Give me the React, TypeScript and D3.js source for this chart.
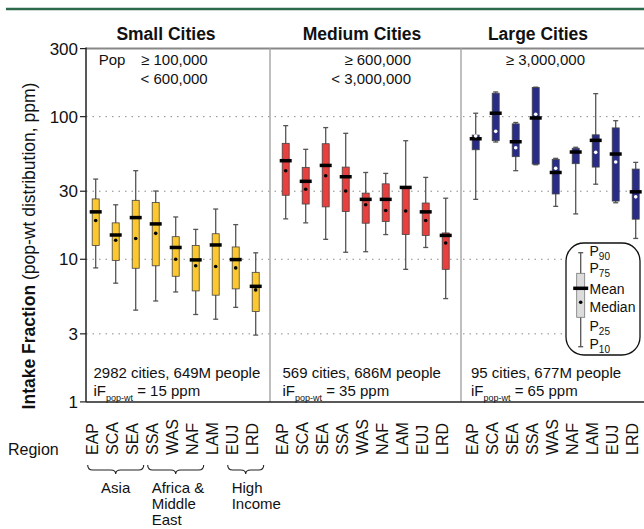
import React from "react";
import * as d3 from "d3";

const regions = ["EAP", "SCA", "SEA", "SSA", "WAS", "NAF", "LAM", "EUJ", "LRD"];
const panelTitles = ["Small Cities", "Medium Cities", "Large Cities"];
const yTicks = [1, 3, 10, 30, 100, 300];
const gridTicks = [3, 10, 30, 100];

const smallP10 = [8.7, 6.8, 4.4, 5.1, 5.9, 4.1, 3.8, 4.6, 2.94];
const smallP25 = [12.5, 9.8, 8.65, 9.0, 7.6, 6.0, 5.6, 6.2, 4.3];
const smallMedian = [18.7, 13.6, 14.0, 15.2, 10.0, 9.0, 8.9, 8.7, 6.1];
const smallMean = [21.5, 14.8, 19.6, 17.7, 12.1, 9.9, 12.6, 9.95, 6.46];
const smallP75 = [26.5, 18.0, 25.9, 25.0, 14.4, 12.5, 15.1, 12.2, 8.1];
const smallP90 = [36.5, 24.1, 41.8, 30.1, 19.8, 16.2, 22.5, 17.5, 11.1];

const mediumP10 = [19.2, 18.0, 13.8, 11.2, 11.3, 14.9, 8.5, 12.1, 5.3];
const mediumP25 = [28.1, 24.4, 23.3, 21.6, 17.9, 18.4, 14.9, 14.7, 8.5];
const mediumMedian = [41.8, 31.0, 38.5, 30.1, 24.1, 22.0, 21.8, 18.7, 13.0];
const mediumMean = [49.1, 35.2, 45.5, 37.9, 26.3, 26.3, 31.9, 21.5, 14.7];
const mediumP75 = [65.0, 44.1, 64.6, 44.3, 29.1, 33.8, 32.1, 24.8, 15.3];
const mediumP90 = [86.5, 59.0, 83.8, 76.4, 40.6, 40.0, 67.8, 37.5, 26.8];

const largeP10 = [26.3, 66.4, 41.8, 46, 23.5, 20.8, 33.6, 24.9, 14.0];
const largeP25 = [58.6, 67.8, 52.4, 46.5, 28.7, 46.8, 44.3, 25.6, 19.1];
const largeMedian = [73.1, 78.9, 60.5, 104, 43.4, 65.0, 56.2, 48.1, 27.4];
const largeMean = [70.0, 105.7, 66.7, 97.9, 40.6, 56.5, 68.2, 54.7, 29.7];
const largeP75 = [74.3, 146, 89, 160, 50.2, 60, 74.6, 83.4, 42.9];
const largeP90 = [105.7, 149, 91, 161, 51, 61, 145, 93.7, 47.8];

const popLine1 = ["\u2265 100,000", "\u2265 600,000", "\u2265 3,000,000"];
const popLine2 = ["< 600,000", "< 3,000,000", ""];
const cityCounts = ["2982 cities, 649M people", "569 cities, 686M people", "95 cities, 677M people"];
const iFValues = ["= 15 ppm", "= 35 ppm", "= 65 ppm"];
const regionGroups = [
  { label: ["Asia"], from: 0, to: 2 },
  { label: ["Africa &", "Middle", "East"], from: 3, to: 5 },
  { label: ["High", "Income"], from: 7, to: 8 },
];
const legendLabels = [
  { main: "P", sub: "90" },
  { main: "P", sub: "75" },
  { main: "Mean", sub: "" },
  { main: "Median", sub: "" },
  { main: "P", sub: "25" },
  { main: "P", sub: "10" },
];

const panelData = [
  { p10: smallP10, p25: smallP25, med: smallMedian, mean: smallMean, p75: smallP75, p90: smallP90 },
  { p10: mediumP10, p25: mediumP25, med: mediumMedian, mean: mediumMean, p75: mediumP75, p90: mediumP90 },
  { p10: largeP10, p25: largeP25, med: largeMedian, mean: largeMean, p75: largeP75, p90: largeP90 },
];

const fills = ["#FDC82F", "#E8403F", "#282C88"];
const dotFills = ["#000", "#000", "#fff"];

const FONT = "'Liberation Sans', Arial, Helvetica, sans-serif";

export default function App() {
  const top = 48.6;
  const bottom = 401.9;
  const left = 86;
  const right = 660;
  const dividers = [270, 461];
  const panelRanges = [
    [95.7, 255.7],
    [285.7, 445.7],
    [475.7, 635.7],
  ];
  const titleX = [166, 362, 538];
  const textLeft = [93.5, 282.5, 471];
  const legendY = [255.5, 273, 294, 312, 331, 349];

  const y = d3.scaleLog().domain([1, 300]).range([bottom, top]);
  const xs = panelRanges.map((r) => d3.scalePoint<string>().domain(regions).range(r as [number, number]));

  const boxW = 7;
  const meanW = 12;
  const capW = 5;

  const brace = (x1: number, x2: number, yT: number) => {
    const mid = (x1 + x2) / 2;
    const h = 5;
    return `M${x1},${yT} Q${x1},${yT + h} ${x1 + 5},${yT + h} L${mid - 5},${yT + h} Q${mid},${yT + h} ${mid},${yT + h + 4} Q${mid},${yT + h} ${mid + 5},${yT + h} L${x2 - 5},${yT + h} Q${x2},${yT + h} ${x2},${yT}`;
  };

  const lx = 580.7;

  return (
    <svg
      width={644}
      height={529}
      style={{ position: "absolute", left: 0, top: 0, fontFamily: FONT }}
    >
      <rect x={0} y={0} width={644} height={529} fill="#fff" />
      <line x1={6} x2={644} y1={9} y2={9} stroke="#2D6A4B" strokeWidth={2.5} />

      {/* grid */}
      {gridTicks.map((t) => (
        <line
          key={"g" + t}
          x1={left}
          x2={right}
          y1={y(t)}
          y2={y(t)}
          stroke="#8a8a8a"
          strokeWidth={1}
          strokeDasharray="1.5,5"
        />
      ))}

      {/* frame */}
      <line x1={left} x2={right} y1={top} y2={top} stroke="#888" strokeWidth={2} />
      {dividers.map((d) => (
        <line key={"d" + d} x1={d} x2={d} y1={top} y2={bottom} stroke="#aaa" strokeWidth={1.5} />
      ))}
      <line x1={left} x2={right} y1={bottom} y2={bottom} stroke="#222" strokeWidth={1.5} />
      <line x1={left} x2={left} y1={top - 1} y2={bottom} stroke="#222" strokeWidth={1.5} />

      {/* y ticks */}
      {yTicks.map((t) => (
        <g key={"t" + t}>
          <line x1={left - 6} x2={left} y1={y(t)} y2={y(t)} stroke="#222" strokeWidth={1.2} />
          <text x={left - 8} y={y(t)} dy="0.36em" textAnchor="end" fontSize={17} fill="#111">
            {t}
          </text>
        </g>
      ))}

      {/* y title */}
      <text
        transform="translate(35,246) rotate(-90)"
        textAnchor="middle"
        fontSize={17.5}
        fill="#111"
      >
        <tspan fontWeight="bold">Intake Fraction</tspan>
        <tspan> (pop-wt distribution, ppm)</tspan>
      </text>

      {/* titles */}
      {panelTitles.map((t, i) => (
        <text key={t} x={titleX[i]} y={40} textAnchor="middle" fontSize={17.5} fontWeight="bold" fill="#111">
          {t}
        </text>
      ))}

      {/* pop thresholds */}
      <text x={98.7} y={65} fontSize={15} fill="#111">Pop</text>
      <text x={207.7} y={65} textAnchor="end" fontSize={15} fill="#111">{popLine1[0]}</text>
      <text x={207.7} y={83.5} textAnchor="end" fontSize={15} fill="#111">{popLine2[0]}</text>
      <text x={411} y={65} textAnchor="end" fontSize={15} fill="#111">{popLine1[1]}</text>
      <text x={411} y={83.5} textAnchor="end" fontSize={15} fill="#111">{popLine2[1]}</text>
      <text x={585} y={65} textAnchor="end" fontSize={15} fill="#111">{popLine1[2]}</text>

      {/* bottom texts */}
      {cityCounts.map((c, i) => (
        <g key={c}>
          <text x={textLeft[i]} y={377.5} fontSize={15} fill="#111">{c}</text>
          <text x={textLeft[i]} y={396} fontSize={15} fill="#111">
            iF
            <tspan fontSize={9} dy={5}>pop-wt</tspan>
            <tspan dy={-5}> {iFValues[i]}</tspan>
          </text>
        </g>
      ))}

      {/* boxes */}
      {panelData.map((pd, pi) =>
        regions.map((r, ri) => {
          const cx = xs[pi](r) as number;
          return (
            <g key={pi + r}>
              <line x1={cx} x2={cx} y1={y(pd.p10[ri])} y2={y(pd.p90[ri])} stroke="#555" strokeWidth={1.3} />
              <line x1={cx - capW / 2} x2={cx + capW / 2} y1={y(pd.p10[ri])} y2={y(pd.p10[ri])} stroke="#555" strokeWidth={1.3} />
              <line x1={cx - capW / 2} x2={cx + capW / 2} y1={y(pd.p90[ri])} y2={y(pd.p90[ri])} stroke="#555" strokeWidth={1.3} />
              <rect
                x={cx - boxW / 2}
                y={y(pd.p75[ri])}
                width={boxW}
                height={y(pd.p25[ri]) - y(pd.p75[ri])}
                fill={fills[pi]}
                stroke="#444"
                strokeWidth={0.8}
              />
              <line x1={cx - meanW / 2} x2={cx + meanW / 2} y1={y(pd.mean[ri])} y2={y(pd.mean[ri])} stroke="#000" strokeWidth={3.5} />
              <circle cx={cx} cy={y(pd.med[ri])} r={1.8} fill={dotFills[pi]} />
            </g>
          );
        })
      )}

      {/* legend */}
      <rect x={566} y={243} width={74} height={112} rx={18} ry={18} fill="#fff" stroke="#111" strokeWidth={1.3} />
      <line x1={lx} x2={lx} y1={252.7} y2={346.7} stroke="#555" strokeWidth={1.3} />
      <line x1={lx - 2.5} x2={lx + 2.5} y1={252.7} y2={252.7} stroke="#555" strokeWidth={1.3} />
      <line x1={lx - 2.5} x2={lx + 2.5} y1={346.7} y2={346.7} stroke="#555" strokeWidth={1.3} />
      <rect x={lx - 4} y={273.3} width={8} height={44} fill="#dcdcdc" stroke="#777" strokeWidth={0.8} />
      <line x1={lx - 7.5} x2={lx + 7.5} y1={288.3} y2={288.3} stroke="#000" strokeWidth={3.5} />
      <circle cx={lx} cy={302.3} r={1.8} fill="#000" />
      {legendLabels.map((l, i) => (
        <text key={l.main + l.sub} x={589.5} y={legendY[i]} fontSize={14} fill="#111">
          {l.main}
          {l.sub ? (
            <tspan fontSize={10} dy={4}>
              {l.sub}
            </tspan>
          ) : null}
        </text>
      ))}

      {/* region labels */}
      <text x={8} y={455} fontSize={16} fill="#111">Region</text>
      {xs.map((sc, pi) =>
        regions.map((r) => (
          <text
            key={"rl" + pi + r}
            transform={`translate(${(sc(r) as number) + 2.5},455) rotate(-90)`}
            fontSize={16}
            fill="#111"
          >
            {r}
          </text>
        ))
      )}

      {/* group braces */}
      {regionGroups.map((g) => {
        const x1 = (xs[0](regions[g.from]) as number) - 8;
        const x2 = (xs[0](regions[g.to]) as number) + 8;
        const isFirst = g.from === 0;
        return (
          <g key={g.label[0]}>
            <path d={brace(x1, x2, 465)} fill="none" stroke="#222" strokeWidth={1.1} />
            {g.label.map((l, li) => (
              <text
                key={l}
                x={isFirst ? (x1 + x2) / 2 : x1 + 4}
                y={493 + li * 16}
                textAnchor={isFirst ? "middle" : "start"}
                fontSize={15}
                fill="#111"
              >
                {l}
              </text>
            ))}
          </g>
        );
      })}
    </svg>
  );
}
